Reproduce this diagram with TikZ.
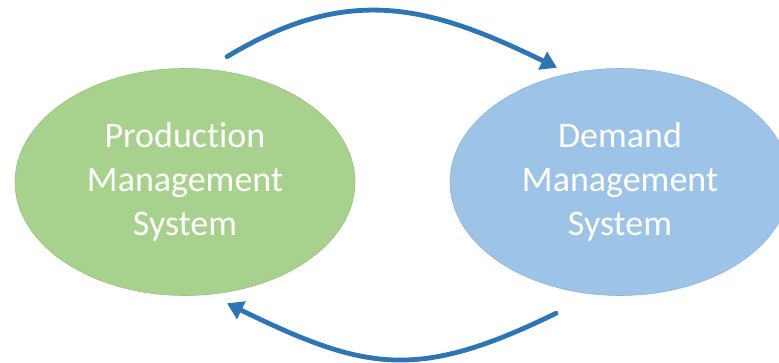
\documentclass[tikz,border=0pt]{standalone}
\usepackage{fontspec}
\setmainfont{Carlito}[Ligatures={NoCommon}]
\usepackage{xcolor}
\usetikzlibrary{shapes.geometric,arrows.meta}

\definecolor{ProdGreen}{HTML}{A9D18E}
\definecolor{ProdEdge}{HTML}{98C47C}
\definecolor{DemBlue}{HTML}{9DC3E6}
\definecolor{DemEdge}{HTML}{8CB4DB}
\definecolor{FlowBlue}{HTML}{2E75B6}

\begin{document}
\begin{tikzpicture}[x=1pt, y=1pt,
        system/.style = {ellipse,
            draw,
            line width=0.6pt,
            inner sep=0pt,
            minimum width=340pt,
            minimum height=227pt,
            align=center,
            text=white,
            font=\fontsize{36}{44}\selectfont},
        flow/.style = {draw=FlowBlue,
            line width=4.8pt,
            line cap=round,
            -{Triangle[length=16pt,width=19pt,fill=FlowBlue]}}]

    \useasboundingbox (0,0) rectangle (779,363);

    % Production side
    \node[system,
        fill=ProdGreen,
        draw=ProdEdge] (prod) at (185,181) {Production\\Management\\System};

    % Demand side, cut by the right margin
    \begin{scope}
        \clip (0,0) rectangle (779,363);
        \node[system,
            fill=DemBlue,
            draw=DemEdge] (dem) at (620,181) {Demand\\Management\\System};
    \end{scope}

    % Ends of the two flows
    \coordinate (p2d start) at ([shift={(42,11.5)}]prod.north);
    \coordinate (p2d end) at ([shift={(-63,0.5)}]dem.north);
    \coordinate (d2p start) at ([shift={(-64,-17.5)}]dem.south);
    \coordinate (d2p end) at ([shift={(42,-7.5)}]prod.south);

    \draw[flow] (p2d start) to[out=31, in=154, looseness=1.1] (p2d end);
    \draw[flow] (d2p start) to[out=206, in=334, looseness=1.2] (d2p end);

\end{tikzpicture}
\end{document}
